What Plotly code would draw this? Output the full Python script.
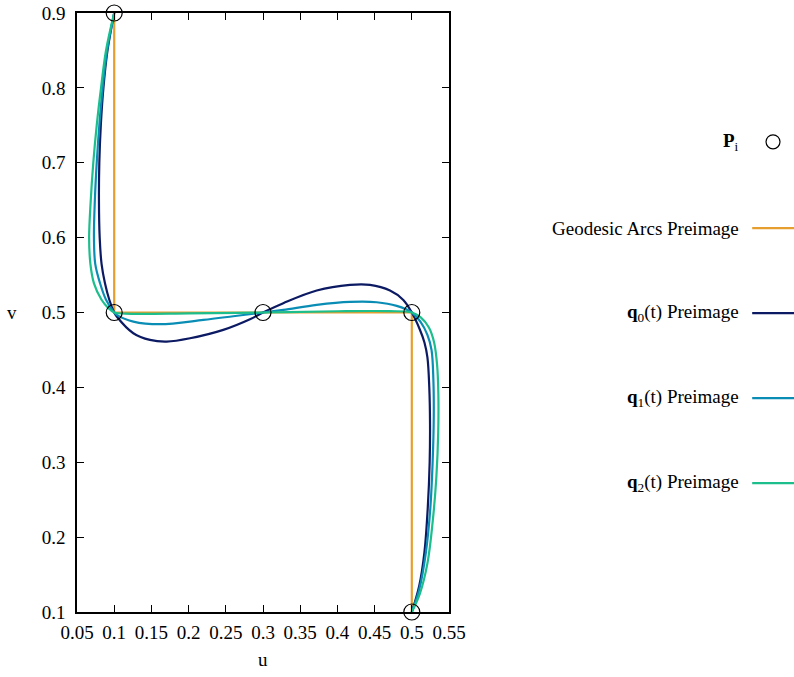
import plotly.graph_objects as go

# Interpolated points P_i
p_u = [0.1, 0.1, 0.3, 0.5, 0.5]
p_v = [0.9, 0.5, 0.5, 0.5, 0.1]

# Geodesic arcs preimage (piecewise straight segments through P_i)
geo_u = [0.1, 0.1, 0.3, 0.5, 0.5]
geo_v = [0.9, 0.5, 0.5, 0.5, 0.1]

# q0(t) preimage
q0_u = [0.1, 0.091, 0.0855, 0.082, 0.080, 0.0795, 0.0805, 0.083, 0.0876, 0.0934, 0.1,
        0.1034, 0.1257, 0.1481, 0.1706, 0.2019, 0.2466, 0.2825, 0.3, 0.3273, 0.3722,
        0.4169, 0.4438, 0.4707, 0.4886, 0.5, 0.5105, 0.517, 0.521, 0.5235, 0.5245,
        0.524, 0.5215, 0.517, 0.510, 0.5]
q0_v = [0.9, 0.85, 0.8, 0.75, 0.7, 0.65, 0.6, 0.565, 0.539, 0.517, 0.5,
        0.4946, 0.4723, 0.4634, 0.4612, 0.4656, 0.4768, 0.491, 0.5, 0.5124, 0.5293,
        0.5368, 0.5368, 0.5293, 0.5168, 0.5, 0.478, 0.46, 0.44, 0.40, 0.35,
        0.30, 0.24, 0.18, 0.135, 0.1]

# q1(t) preimage
q1_u = [0.1, 0.0905, 0.0845, 0.080, 0.0765, 0.074, 0.0728, 0.0745, 0.081, 0.089, 0.1,
        0.1034, 0.1257, 0.1615, 0.2198, 0.2600, 0.3, 0.3273, 0.3722, 0.4169, 0.4528,
        0.4797, 0.5, 0.512, 0.521, 0.5265, 0.529, 0.5295, 0.528, 0.525, 0.519, 0.510, 0.5]
q1_v = [0.9, 0.85, 0.8, 0.75, 0.7, 0.65, 0.6, 0.565, 0.539, 0.517, 0.5,
        0.4968, 0.4879, 0.4844, 0.4901, 0.4950, 0.5, 0.5034, 0.5101, 0.5141, 0.5137,
        0.5088, 0.5, 0.487, 0.47, 0.45, 0.41, 0.36, 0.30, 0.24, 0.18, 0.13, 0.1]

# q2(t) preimage
q2_u = [0.1, 0.089, 0.0823, 0.0765, 0.0719, 0.0685, 0.0663, 0.068, 0.0728, 0.083, 0.092,
        0.1, 0.115, 0.2, 0.3, 0.4, 0.47, 0.5, 0.512, 0.523, 0.530, 0.534, 0.5357,
        0.5355, 0.533, 0.528, 0.521, 0.511, 0.5]
q2_v = [0.9, 0.85, 0.8, 0.75, 0.7, 0.65, 0.6, 0.565, 0.539, 0.517, 0.506,
        0.5, 0.4985, 0.4988, 0.5, 0.5017, 0.5018, 0.5, 0.4935, 0.48, 0.46, 0.43, 0.39,
        0.34, 0.28, 0.22, 0.165, 0.125, 0.1]

x_ticks = [0.05, 0.1, 0.15, 0.2, 0.25, 0.3, 0.35, 0.4, 0.45, 0.5, 0.55]
x_tick_text = ["0.05", "0.1", "0.15", "0.2", "0.25", "0.3", "0.35", "0.4", "0.45", "0.5", "0.55"]
y_ticks = [0.1, 0.2, 0.3, 0.4, 0.5, 0.6, 0.7, 0.8, 0.9]
y_tick_text = ["0.1", "0.2", "0.3", "0.4", "0.5", "0.6", "0.7", "0.8", "0.9"]

ORANGE = "#E69F2E"
NAVY = "#0C1A63"
TEAL = "#0A8DB5"
GREEN = "#1CBE8C"
FONT = "Liberation Serif, serif"
FSIZE = 19

fig = go.Figure()
fig.add_trace(go.Scatter(x=geo_u, y=geo_v, mode="lines",
                         line=dict(color=ORANGE, width=2.2), name="Geodesic Arcs Preimage"))
for u, v, c, n in [(q0_u, q0_v, NAVY, "q0"), (q1_u, q1_v, TEAL, "q1"), (q2_u, q2_v, GREEN, "q2")]:
    fig.add_trace(go.Scatter(x=u, y=v, mode="lines",
                             line=dict(color=c, width=2.2, shape="spline", smoothing=1.0),
                             name=n))
fig.add_trace(go.Scatter(x=p_u, y=p_v, mode="markers",
                         marker=dict(symbol="circle-open", size=16,
                                     color="black", line=dict(width=1.2)),
                         name="P", cliponaxis=False))

axis_common = dict(showgrid=False, zeroline=False, showline=True, linecolor="black",
                   linewidth=1.5, mirror="allticks", ticks="inside", ticklen=7,
                   tickcolor="black", tickwidth=1, automargin=False,
                   tickfont=dict(family=FONT, size=FSIZE, color="black"))
fig.update_xaxes(range=[0.05, 0.55], tickvals=x_ticks, ticktext=x_tick_text,
                 ticklabelstandoff=2, **axis_common)
fig.update_yaxes(range=[0.1, 0.9], tickvals=y_ticks, ticktext=y_tick_text,
                 ticklabelstandoff=6, **axis_common)

# Custom legend on the right: text right-aligned, sample on the right
legend_rows = [
    ("<b>P</b><sub>i</sub>", None, 0.785),
    ("Geodesic Arcs Preimage", ORANGE, 0.641),
    ("<b>q</b><sub>0</sub>(t) Preimage", NAVY, 0.499),
    ("<b>q</b><sub>1</sub>(t) Preimage", TEAL, 0.357),
    ("<b>q</b><sub>2</sub>(t) Preimage", GREEN, 0.215),
]
annotations = []
shapes = []
for text, color, yy in legend_rows:
    annotations.append(dict(x=1.785, y=yy, xref="paper", yref="paper", text=text,
                            showarrow=False, xanchor="right", yanchor="middle",
                            font=dict(family=FONT, size=FSIZE, color="black")))
    if color is None:
        shapes.append(dict(type="circle", xref="paper", yref="paper",
                           xsizemode="pixel", ysizemode="pixel",
                           xanchor=1.871, yanchor=yy, x0=-7, x1=7, y0=-7, y1=7,
                           line=dict(color="black", width=1.2)))
    else:
        shapes.append(dict(type="line", xref="paper", yref="paper",
                           x0=1.815, x1=1.93, y0=yy, y1=yy,
                           line=dict(color=color, width=2.2)))

annotations.append(dict(x=0.5, y=-0.080, xref="paper", yref="paper", text="u",
                        showarrow=False, xanchor="center", yanchor="middle",
                        font=dict(family=FONT, size=FSIZE, color="black")))
annotations.append(dict(x=-0.175, y=0.5, xref="paper", yref="paper", text="v",
                        showarrow=False, xanchor="center", yanchor="middle",
                        font=dict(family=FONT, size=FSIZE, color="black")))

fig.update_layout(width=794, height=677, showlegend=False,
                  margin=dict(l=77, r=345, t=13, b=65),
                  paper_bgcolor="white", plot_bgcolor="white",
                  annotations=annotations, shapes=shapes)

fig.write_html("out.html")
